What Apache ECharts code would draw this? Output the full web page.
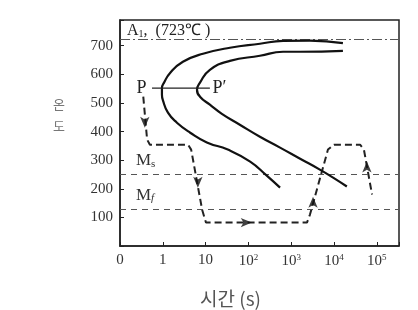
<!DOCTYPE html>
<html><head><meta charset="utf-8">
<script src="https://cdn.jsdelivr.net/npm/echarts@6/dist/echarts.min.js"></script>
<style>html,body{margin:0;padding:0;background:#fff}#c{width:418px;height:310px}</style>
</head><body><div id="c"></div>
<script>
// time axis ticks (seconds) and their labels ("0" is drawn at 0.1 s on the log scale)
const xTickValues = [0.1, 1, 10, 100, 1000, 10000, 100000];
const xTickLabels = ['0', '1', '10', '10{sup|2}', '10{sup|3}', '10{sup|4}', '10{sup|5}'];
const yTickValues = [100, 200, 300, 400, 500, 600, 700];

// transformation start curve [time s, temperature °C]
const curveStart = [[16200,709],[2750,718],[646,717],[186,707],[37,693],[8.7,672],[2.95,644],[1.48,605],[1.07,571],[0.955,553],[0.955,529],[1.0,511],[1.32,466],[2.14,431],[4.37,396],[10.7,362],[33,337],[110,295],[269,246],[550,204]];
// transformation finish curve
const curveFinish = [[16200,682],[1620,679],[646,679],[186,665],[37,647],[12.6,616],[7.4,571],[6.3,546],[7.4,522],[12.6,494],[24,462],[63,424],[186,382],[550,344],[1620,305],[4680,267],[9550,239],[20000,208]];
// heat-treatment path (dashed)
const coolingPath = [[0.35,522],[0.43,372],[0.5,354],[3.9,354],[4.6,337],[8.3,127],[10.2,82],[2340,82],[2750,110],[7240,337],[10000,354],[40700,354],[50100,337],[77600,180]];
// arrows on the path [time, temp, direction]
const arrows = [[0.38,413,'down'],[6.6,204,'down'],[120,82,'right'],[3240,172,'up'],[58900,295,'up']];
// P - P' isothermal line
const pLine = [[0.56,552],[12.6,552]];
const pLabels = ['P', 'P′'];
// reference temperatures
const A1 = 723, Ms = 250, Mf = 130;

const dirRot = {down:180, up:0, right:270, left:90};
const serif = 'Liberation Serif';

const chart = echarts.init(document.getElementById('c'), null, {renderer:'canvas'});
chart.setOption({
  animation:false,
  backgroundColor:'#fff',
  grid:{left:120, right:19, top:20, bottom:64, outerBoundsMode:'none', containLabel:false,
        show:true, borderColor:'#222', borderWidth:1.5, backgroundColor:'transparent'},
  graphic:[{
    type:'text', left:53, top:93, silent:true,
    style:{text:'온\n도', fontFamily:'Noto Sans CJK KR', fontSize:13, lineHeight:22, fill:'#777', align:'left'}
  }],
  xAxis:{
    type:'log', logBase:10, min:0.1, max:331000,
    axisLine:{lineStyle:{color:'#222', width:1.5}},
    axisTick:{inside:true, length:4, lineStyle:{color:'#222'}},
    splitLine:{show:false},
    axisLabel:{
      margin:7, color:'#333', fontFamily:serif, fontSize:15,
      formatter:function(v){
        for (let i=0;i<xTickValues.length;i++){
          if (Math.abs(Math.log10(v)-Math.log10(xTickValues[i]))<1e-6) return xTickLabels[i];
        }
        return '';
      },
      rich:{sup:{fontSize:9, verticalAlign:'top', padding:[0,0,8,0], fontFamily:serif, color:'#333'}}
    },
    name:'시간 (s)', nameLocation:'middle', nameGap:43,
    nameTextStyle:{fontFamily:'Noto Sans CJK KR', fontSize:19, color:'#555', padding:[0,58,0,0]}
  },
  yAxis:{
    type:'value', min:0, max:790, interval:100,
    axisLine:{show:true, lineStyle:{color:'#222', width:1.5}},
    axisTick:{show:true, inside:true, length:4, lineStyle:{color:'#222'}},
    splitLine:{show:false},
    axisLabel:{
      margin:7, color:'#333', fontFamily:serif, fontSize:15,
      formatter:function(v){ return yTickValues.indexOf(v)>=0 ? String(v) : ''; }
    }
  },
  series:[
    {
      type:'line', data:curveStart, smooth:0.5, showSymbol:false,
      lineStyle:{color:'#111', width:2.2}, z:5,
      markLine:{
        silent:true, symbol:['none','none'],
        data:[
          {yAxis:A1, lineStyle:{color:'#555', width:1, type:[10,3,2,3]},
           label:{show:true, position:'insideStartTop', distance:[7,0], formatter:'A{sub|1},  (723℃ )',
             fontFamily:serif, fontSize:16, color:'#222',
             rich:{sub:{fontSize:10, verticalAlign:'bottom', fontFamily:serif, color:'#222'}}}},
          {yAxis:Ms, lineStyle:{color:'#555', width:1, type:[6,5]},
           label:{show:true, position:'insideStartTop', distance:[16,5], formatter:'M{sub|s}',
             fontFamily:serif, fontSize:17, color:'#333',
             rich:{sub:{fontSize:11, verticalAlign:'bottom', fontFamily:serif, color:'#333', padding:[4,0,0,0]}}}},
          {yAxis:Mf, lineStyle:{color:'#555', width:1, type:[6,5]},
           label:{show:true, position:'insideStartTop', distance:[16,5], formatter:'M{sub|f}',
             fontFamily:serif, fontSize:17, color:'#333',
             rich:{sub:{fontSize:11, fontStyle:'italic', verticalAlign:'bottom', fontFamily:serif, color:'#333', padding:[4,0,0,0]}}}}
        ]
      }
    },
    {type:'line', data:curveFinish, smooth:0.5, showSymbol:false, lineStyle:{color:'#111', width:2.2}, z:5},
    {type:'line', data:coolingPath, smooth:false, showSymbol:false, lineStyle:{color:'#222', width:2, type:[7,4]}, z:4},
    {
      type:'line',
      data:pLine.map((d,i)=>({value:d, label:{show:true, position:i===0?'left':'right', distance:i===0?5:2, formatter:pLabels[i]}})),
      showSymbol:true, symbol:'circle', symbolSize:1, itemStyle:{color:'rgba(0,0,0,0)'},
      lineStyle:{color:'#222', width:1.3}, z:6,
      label:{show:true, fontFamily:serif, fontSize:18, color:'#222'}
    },
    {
      type:'scatter', data:arrows.map(a=>({value:[a[0],a[1]], symbolRotate:dirRot[a[2]]})),
      symbol:'arrow', symbolSize:[7,11], itemStyle:{color:'#111'}, z:7
    }
  ]
});
</script>
</body></html>
